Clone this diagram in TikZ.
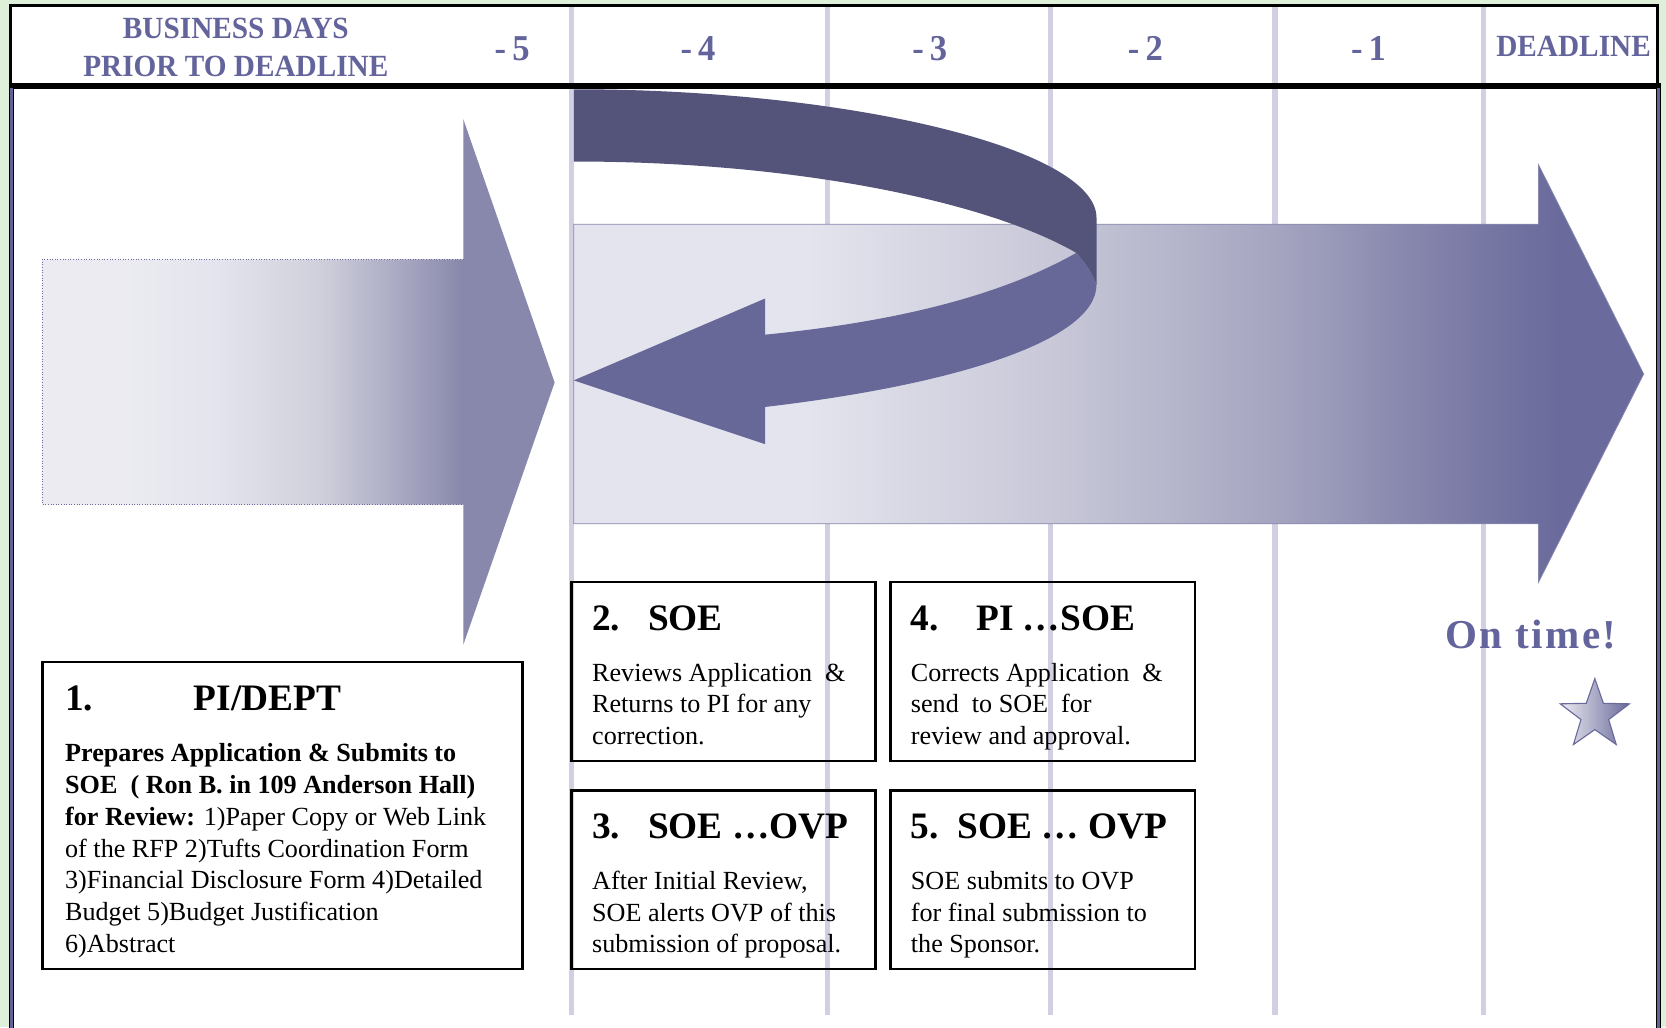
\documentclass[tikz,border=0pt]{standalone}
\usepackage{fontspec}
\setmainfont{Liberation Serif}
\newfontfamily\headfont[FakeStretch=0.95]{Liberation Serif}
\newfontfamily\ontimefont[LetterSpace=6]{Liberation Serif}
\usetikzlibrary{shapes.geometric,positioning}

\definecolor{greenbg}{RGB}{222,240,218}
\definecolor{headpurple}{RGB}{100,100,156}
\definecolor{gridlav}{RGB}{208,208,226}
\definecolor{flowlight}{RGB}{228,228,238}
\definecolor{flowshadeA}{RGB}{198,198,215}
\definecolor{flowshadeB}{RGB}{164,164,192}
\definecolor{flowshadeC}{RGB}{126,126,168}
\definecolor{flowdark}{RGB}{106,106,156}
\definecolor{leftlight}{RGB}{235,235,241}
\definecolor{leftmidA}{RGB}{208,208,220}
\definecolor{leftmidB}{RGB}{168,168,194}
\definecolor{leftdark}{RGB}{136,136,172}
\definecolor{loopback}{RGB}{84,84,122}
\definecolor{loopfront}{RGB}{103,103,152}
\definecolor{framepurple}{RGB}{98,98,150}
\definecolor{starlight}{RGB}{236,236,242}

\pgfdeclarehorizontalshading{bigflow}{100bp}{%
  color(0bp)=(flowlight); color(36bp)=(flowlight); color(48bp)=(flowshadeA);
  color(58bp)=(flowshadeB); color(66bp)=(flowshadeC); color(71bp)=(flowdark);
  color(100bp)=(flowdark)}
\pgfdeclarehorizontalshading{leftflow}{100bp}{%
  color(0bp)=(leftlight); color(33bp)=(leftlight); color(42bp)=(flowlight);
  color(52bp)=(leftmidA); color(60bp)=(leftmidB); color(66bp)=(leftdark);
  color(100bp)=(leftdark)}

\newcommand{\stephead}[1]{{\bfseries\fontsize{20}{24}\selectfont #1}}

\begin{document}
\begin{tikzpicture}[
    x=0.02cm, y=-0.02cm,
    every node/.style={inner sep=0pt},
    hdrword/.style={font=\headfont\bfseries\fontsize{16.5}{20.4}\selectfont,
                    text=headpurple, align=center},
    daynum/.style={font=\headfont\bfseries\fontsize{19.5}{20}\selectfont,
                   text=headpurple},
    dayline/.style={draw=gridlav, line width=2.7pt},
    stepbox/.style={draw, line width=1.3pt, anchor=north west, outer sep=0pt},
    steptext/.style={align=left, font=\fontsize{14}{17}\selectfont},
    sideedge/.style={draw=black, double=framepurple, double distance=1.3pt,
                     line width=0.6pt}
  ]
  \useasboundingbox (0,0) rectangle (1568,967);

  % Fundo
  \fill[greenbg] (0,0) rectangle (1568,967);
  \fill[white] (10,5) rectangle (1561,967);

  % Linhas dos dias
  \draw[dayline] (538,5) -- (538,955);
  \draw[dayline] (779,5) -- (779,955);
  \draw[dayline] (989,5) -- (989,955);
  \draw[dayline] (1200,5) -- (1200,955);
  \draw[dayline] (1396,5) -- (1396,955);

  % Seta da esquerda (PI/DEPT)
  \shade[shading=leftflow] (40,244) -- (436,244) -- (436,112) -- (522,360)
    -- (436,607) -- (436,475) -- (40,475) -- cycle;
  \draw[flowdark, densely dotted, line width=0.4pt] (436,244) -- (40,244)
    -- (40,475) -- (436,475);

  % Seta grande ate o prazo
  \shadedraw[shading=bigflow, draw=flowdark!80, line width=0.4pt]
    (540,211) -- (1448,211) -- (1448,155) -- (1547,352) -- (1448,548)
    -- (1448,493) -- (540,493) -- cycle;

  % Seta de retorno (parte de tras)
  \fill[loopback] (540,84) .. controls (800,84) and (1032,140) .. (1032,205)
    -- (1032,268) .. controls (1027,255) and (1020,246) .. (1013,238)
    .. controls (930,190) and (750,152) .. (540,152) -- cycle;

  % Seta de retorno (parte da frente)
  \fill[loopfront] (1013,238) .. controls (930,285) and (820,305) .. (720,315)
    -- (720,281) -- (540,358) -- (720,418) -- (720,383)
    .. controls (900,362) and (1032,320) .. (1032,268)
    .. controls (1027,255) and (1020,246) .. (1013,238) -- cycle;

  % Cabecalho
  \draw[line width=1.7pt] (10,82) -- (10,5) -- (1560,5) -- (1560,82);
  \draw[line width=2.8pt] (8,81) -- (1563,81);
  \draw[sideedge] (11,83) -- (11,975);
  \draw[sideedge] (1561,83) -- (1561,975);

  \node[hdrword] (daysprior) at (222,45) {BUSINESS DAYS\\PRIOR TO DEADLINE};
  \node[daynum] (dfive) at (482,46) {-\,5};
  \node[daynum] (dfour) at (657,46) {-\,4};
  \node[daynum] (dthree) at (875,46) {-\,3};
  \node[daynum] (dtwo) at (1078,46) {-\,2};
  \node[daynum] (done) at (1288,46) {-\,1};
  \node[hdrword] (ddeadline) at (1481,44) {DEADLINE};

  % Caixas dos passos
  \node[stepbox, minimum width=9.04cm, minimum height=5.78cm] (pidept) at (40,623) {};
  \node[stepbox, minimum width=5.72cm, minimum height=3.36cm] (soereview) at (538,548) {};
  \node[stepbox, minimum width=5.74cm, minimum height=3.36cm] (pisoe) at (838,548) {};
  \node[stepbox, minimum width=5.72cm, minimum height=3.36cm] (soeovp) at (538,744) {};
  \node[stepbox, minimum width=5.74cm, minimum height=3.36cm] (soesubmit) at (838,744) {};

  \node[steptext, anchor=north west, below right=0.45cm and 0.42cm of pidept.north west]
    (pidepttxt) {\stephead{1.\hspace{54pt}PI/DEPT}\\[10.3pt]
    \textbf{Prepares Application \& Submits to}\\
    \textbf{SOE\ \ ( Ron B. in 109 Anderson Hall)}\\
    \textbf{for Review:} 1)Paper Copy or Web Link\\
    of the RFP 2)Tufts Coordination Form\\
    3)Financial Disclosure Form 4)Detailed\\
    Budget 5)Budget Justification\\
    6)Abstract};
  \node[steptext, below right=0.43cm and 0.38cm of soereview.north west]
    (soereviewtxt) {\stephead{2.\hspace{15pt}SOE}\\[10.3pt]
    Reviews Application\ \ \&\\
    Returns to PI for any\\
    correction.};
  \node[steptext, below right=0.43cm and 0.38cm of pisoe.north west]
    (pisoetxt) {\stephead{4.\hspace{20pt}PI …SOE}\\[10.3pt]
    Corrects Application\ \ \&\\
    send\ \ to SOE\ \ for\\
    review and approval.};
  \node[steptext, below right=0.43cm and 0.38cm of soeovp.north west]
    (soeovptxt) {\stephead{3.\hspace{15pt}SOE …OVP}\\[10.3pt]
    After Initial Review,\\
    SOE alerts OVP of this\\
    submission of proposal.};
  \node[steptext, below right=0.43cm and 0.38cm of soesubmit.north west]
    (soesubmittxt) {\stephead{5.\hspace{10pt}SOE … OVP}\\[10.3pt]
    SOE submits to OVP\\
    for final submission to\\
    the Sponsor.};

  % No prazo
  \node[font=\ontimefont\bfseries\fontsize{22}{24}\selectfont, text=headpurple]
    (ontime) at (1441,597) {On time!};
  \node[star, star points=5, star point ratio=2.5, minimum size=1.37cm,
        draw=flowdark, line width=0.6pt, left color=starlight, right color=flowdark]
    (ontimestar) at (1501,673) {};
\end{tikzpicture}
\end{document}
